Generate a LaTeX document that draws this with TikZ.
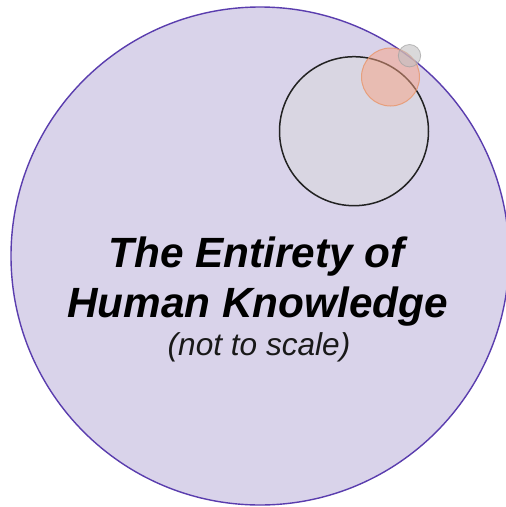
\documentclass[tikz,border=0pt]{standalone}
\usepackage{fontspec}
\setmainfont{Liberation Sans}
\definecolor{bigfill}{HTML}{D9D3EA}
\definecolor{bigline}{HTML}{5A3DAE}
\definecolor{midfill}{HTML}{D9D6E2}
\definecolor{midline}{HTML}{222222}
\definecolor{orfill}{HTML}{F7A383}
\definecolor{orline}{HTML}{E8956A}
\definecolor{smfill}{HTML}{C2C0C2}
\definecolor{smline}{HTML}{A0A0A0}
\tikzset{
  ring/.style={circle, inner sep=0pt, outer sep=0pt},
  title/.style={anchor=base, font=\fontsize{42.3}{48}\selectfont\bfseries\itshape, text=black, inner sep=0pt},
  subtitle/.style={anchor=base, font=\fontsize{31.6}{36}\selectfont\itshape, text=black!90, inner sep=0pt}
}
\begin{document}
\begin{tikzpicture}[x=1pt,y=-1pt]
  \useasboundingbox[fill=white] (0,0) rectangle (506,507);
  \node[ring, minimum size=498pt, fill=bigfill, draw=bigline, line width=1.4pt] (all) at (260,256) {};
  \node[ring, minimum size=149pt, fill=midfill, draw=midline, line width=1.5pt] (mid) at (354,131.2) {};
  \node[ring, minimum size=58pt, fill=orfill, fill opacity=0.5, draw=orline, draw opacity=0.8, line width=1pt] (orange) at (390.5,77) {};
  \node[ring, minimum size=22.4pt, fill=smfill, fill opacity=0.6, draw=smline, draw opacity=0.7, line width=0.8pt] (small) at (409.5,55.7) {};
  \node[title] (t1) at (256.5,267.3) {The Entirety of};
  \node[title] (t2) at (257.5,317.3) {Human Knowledge};
  \node[subtitle] (t3) at (259,355) {(not to scale)};
\end{tikzpicture}
\end{document}
